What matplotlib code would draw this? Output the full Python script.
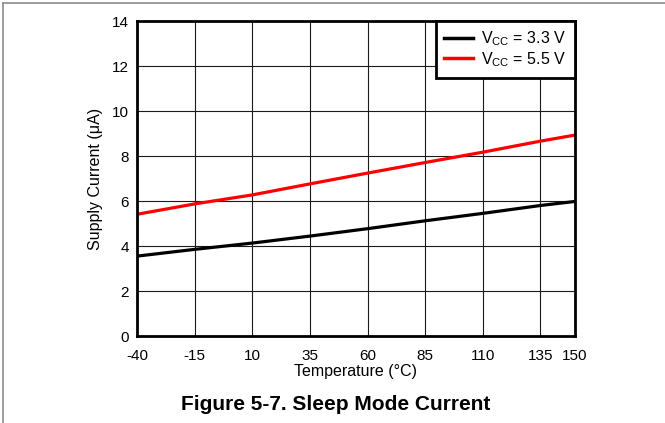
"""Sleep mode supply current versus temperature."""

import matplotlib

matplotlib.use("Agg")
import matplotlib.pyplot as plt
from matplotlib.lines import Line2D

plt.rcParams.update(
    {
        "font.family": ["Liberation Sans", "DejaVu Sans"],
        "mathtext.default": "regular",
        "axes.unicode_minus": False,
        "font.size": 11,
    }
)

# ---------------------------------------------------------------------------
# Data
# ---------------------------------------------------------------------------
temperature = [-40, -15, 10, 35, 60, 85, 110, 135, 150]
current_33v = [3.55, 3.85, 4.13, 4.44, 4.77, 5.12, 5.45, 5.80, 5.98]
current_55v = [5.41, 5.87, 6.27, 6.76, 7.24, 7.71, 8.17, 8.66, 8.93]

x_ticks = [-40, -15, 10, 35, 60, 85, 110, 135, 150]
y_ticks = [0, 2, 4, 6, 8, 10, 12, 14]

series_labels = [r"V$_{CC}$ = 3.3 V", r"V$_{CC}$ = 5.5 V"]

fig = plt.figure(figsize=(6.65, 4.23), dpi=100)
ax = fig.add_axes([137 / 665, 1 - 336 / 423, (575 - 137) / 665, (336 - 21) / 423])

ax.plot(temperature, current_33v, color="black", lw=2.3, solid_capstyle="butt", zorder=3)
ax.plot(temperature, current_55v, color="#ff0000", lw=2.3, solid_capstyle="butt", zorder=3)

ax.set_xlim(-40, 150)
ax.set_ylim(0, 14)
ax.set_xticks(x_ticks)
ax.set_yticks(y_ticks)
ax.grid(True, color="#1a1a1a", lw=0.8)
ax.tick_params(axis="x", length=0, pad=9, labelsize=11)
ax.tick_params(axis="y", length=0, pad=6, labelsize=11)
for spine in ax.spines.values():
    spine.set_linewidth(2.0)
    spine.set_zorder(4)

ax.set_xlabel("Temperature (°C)", fontsize=11.5, labelpad=1)
ax.set_ylabel("Supply Current (μA)", fontsize=11.5, labelpad=6)

handles = [
    Line2D([], [], color="black", lw=2.5),
    Line2D([], [], color="#ff0000", lw=2.5),
]
leg = ax.legend(
    handles,
    series_labels,
    loc="upper right",
    bbox_to_anchor=(1.0, 1.0),
    frameon=True,
    fancybox=False,
    framealpha=1,
    edgecolor="black",
    fontsize=11.5,
    handlelength=1.8,
    handletextpad=0.5,
    borderpad=0.55,
    labelspacing=0.1,
    borderaxespad=0,
)
leg.get_frame().set_linewidth(2.0)
leg.set_zorder(5)

fig.text(336 / 665, 1 - 404 / 423, "Figure 5-7. Sleep Mode Current",
         ha="center", va="center", fontsize=15, fontweight="bold")

# Page frame (only left and top edges fall inside the crop)
fig.add_artist(Line2D([3 / 665, 3 / 665], [0, 1 - 3 / 423], color="#8c8c8c", lw=1.2))
fig.add_artist(Line2D([3 / 665, 1], [1 - 3 / 423, 1 - 3 / 423], color="#8c8c8c", lw=1.2))

fig.savefig("out.png", dpi=100)
